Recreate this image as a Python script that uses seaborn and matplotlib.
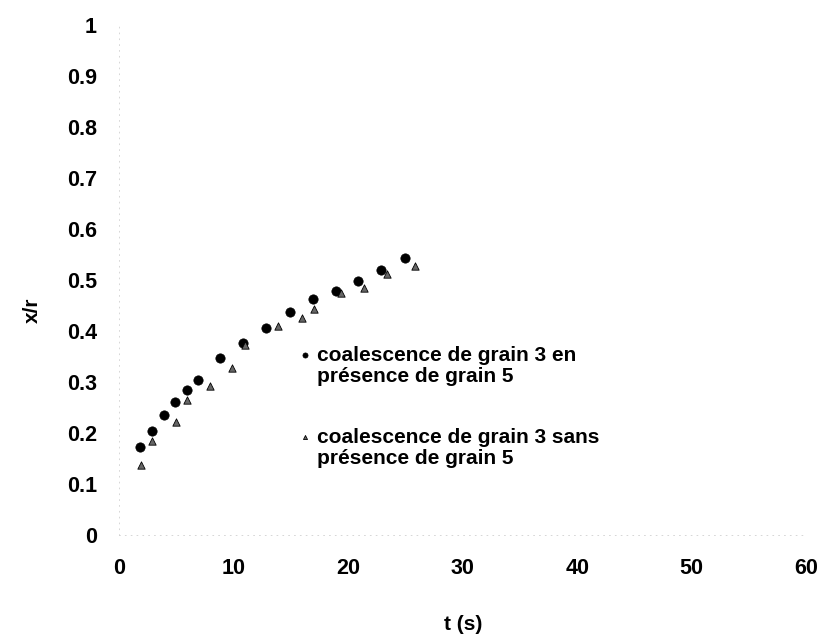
import pandas as pd
import matplotlib
matplotlib.use('Agg')
import matplotlib.pyplot as plt
import seaborn as sns

# coalescence de grain 3 en presence de grain 5
t_with = [1.8, 2.9, 3.9, 4.9, 5.9, 6.9, 8.8, 10.8, 12.8, 14.9, 16.9, 18.9, 20.9, 22.9, 25.0]
xr_with = [0.173, 0.204, 0.235, 0.261, 0.284, 0.304, 0.348, 0.376, 0.407, 0.437, 0.462, 0.478, 0.499, 0.520, 0.543]

# coalescence de grain 3 sans presence de grain 5
t_without = [1.9, 2.9, 5.0, 5.9, 7.9, 9.9, 11.0, 13.9, 16.0, 17.0, 19.4, 21.4, 23.4, 25.8]
xr_without = [0.137, 0.184, 0.222, 0.265, 0.292, 0.328, 0.373, 0.410, 0.425, 0.443, 0.474, 0.484, 0.511, 0.527]

lab_with = 'coalescence de grain 3 en\nprésence de grain 5'
lab_without = 'coalescence de grain 3 sans\nprésence de grain 5'

x_ticks = [0, 10, 20, 30, 40, 50, 60]
y_ticks = [0, 0.1, 0.2, 0.3, 0.4, 0.5, 0.6, 0.7, 0.8, 0.9, 1]
y_tick_labels = ['0', '0.1', '0.2', '0.3', '0.4', '0.5', '0.6', '0.7', '0.8', '0.9', '1']

df = pd.concat([
    pd.DataFrame({'t': t_with, 'xr': xr_with, 'serie': lab_with}),
    pd.DataFrame({'t': t_without, 'xr': xr_without, 'serie': lab_without}),
], ignore_index=True)

sns.set_style('white')
plt.rcParams['font.family'] = ['Liberation Sans', 'DejaVu Sans']
plt.rcParams['font.weight'] = 'bold'
plt.rcParams['text.color'] = 'black'
plt.rcParams['xtick.color'] = 'black'
plt.rcParams['ytick.color'] = 'black'
plt.rcParams['axes.labelcolor'] = 'black'

fig = plt.figure(figsize=(8.27, 6.38), dpi=100)
ax = fig.add_axes([0.144, 0.161, 0.831, 0.8])

sns.scatterplot(data=df[df['serie'] == lab_with], x='t', y='xr', ax=ax,
                color='black', marker='o', s=45, edgecolor='black', linewidth=0.5,
                label=lab_with)
sns.scatterplot(data=df[df['serie'] == lab_without], x='t', y='xr', ax=ax,
                color='#666666', marker='^', s=28, edgecolor='black', linewidth=0.6,
                label=lab_without)

ax.set_xlim(0, 60)
ax.set_ylim(0, 1)
ax.set_xticks(x_ticks)
ax.set_yticks(y_ticks)
ax.set_yticklabels(y_tick_labels)
ax.tick_params(axis='both', labelsize=15.5, length=0)
ax.tick_params(axis='y', pad=16)
ax.tick_params(axis='x', pad=16)
for lbl in ax.get_xticklabels() + ax.get_yticklabels():
    lbl.set_fontweight('bold')

ax.set_xlabel('t (s)', fontsize=15, fontweight='bold', labelpad=26)
ax.set_ylabel('x/r', fontsize=15, fontweight='bold')
ax.yaxis.set_label_coords(-0.113, 0.44)

sns.despine(ax=ax, top=True, right=True)
for side in ['left', 'bottom']:
    ax.spines[side].set_color('#d0d0d0')
    ax.spines[side].set_linestyle((0, (1, 6)))
    ax.spines[side].set_linewidth(0.6)

leg = ax.legend(loc='upper left', bbox_to_anchor=(0.243, 0.392), frameon=False,
                fontsize=15, handletextpad=0.2, labelspacing=2.0,
                handlelength=0.8, borderpad=0, markerscale=0.55)
for txt in leg.get_texts():
    txt.set_fontweight('bold')
    txt.set_linespacing(1.15)
# put the marker next to the first line of each label
for col in leg._legend_handle_box.get_children():
    for row in col.get_children():
        row.align = 'top'

plt.savefig('out.png', dpi=100)
